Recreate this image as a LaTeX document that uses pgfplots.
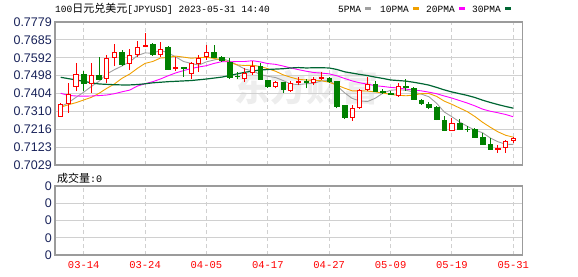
\documentclass[border=0pt]{standalone}
\usepackage{pgfplots}
\pgfplotsset{compat=1.18}
\usepackage{pgfplotstable}
\usepackage{fontspec}
\setmainfont{Liberation Sans}
\newfontfamily\cjk{Noto Sans CJK SC}
\newfontfamily\mono{Liberation Mono}

\definecolor{upred}{RGB}{255,0,0}
\definecolor{dngreen}{RGB}{0,128,0}
\definecolor{mafive}{RGB}{160,160,160}
\definecolor{maten}{RGB}{240,160,0}
\definecolor{matwenty}{RGB}{255,0,255}
\definecolor{mathirty}{RGB}{0,102,51}
\definecolor{gridc}{RGB}{208,208,208}
\definecolor{framec}{RGB}{155,155,155}
\definecolor{ticktext}{RGB}{25,35,90}

\pgfplotstableread{
i o h l c
0 0.7282 0.7353 0.7282 0.7347
1 0.7353 0.7457 0.7303 0.7398
2 0.7442 0.7566 0.7417 0.7505
3 0.7506 0.7522 0.7417 0.7458
4 0.7458 0.7566 0.7408 0.7499
5 0.7501 0.7595 0.7480 0.7480
6 0.7484 0.7606 0.7458 0.7589
7 0.7594 0.7664 0.7548 0.7620
8 0.7620 0.7632 0.7548 0.7557
9 0.7559 0.7636 0.7527 0.7604
10 0.7611 0.7681 0.7597 0.7646
11 0.7652 0.7720 0.7646 0.7658
12 0.7664 0.7671 0.7602 0.7610
13 0.7610 0.7673 0.7597 0.7637
14 0.7649 0.7655 0.7527 0.7533
15 0.7534 0.7594 0.7524 0.7543
16 0.7543 0.7545 0.7492 0.7539
17 0.7510 0.7571 0.7480 0.7560
18 0.7560 0.7606 0.7518 0.7589
19 0.7597 0.7657 0.7580 0.7620
20 0.7622 0.7657 0.7589 0.7594
21 0.7592 0.7601 0.7571 0.7576
22 0.7568 0.7589 0.7479 0.7489
23 0.7495 0.7518 0.7479 0.7493
24 0.7484 0.7536 0.7466 0.7510
25 0.7515 0.7576 0.7501 0.7548
26 0.7545 0.7562 0.7475 0.7480
27 0.7475 0.7475 0.7434 0.7440
28 0.7440 0.7471 0.7431 0.7463
29 0.7461 0.7466 0.7408 0.7428
30 0.7422 0.7470 0.7413 0.7458
31 0.7462 0.7489 0.7447 0.7466
32 0.7466 0.7480 0.7431 0.7462
33 0.7461 0.7492 0.7449 0.7478
34 0.7482 0.7518 0.7475 0.7486
35 0.7484 0.7489 0.7458 0.7466
36 0.7466 0.7470 0.7326 0.7335
37 0.7344 0.7344 0.7270 0.7277
38 0.7279 0.7344 0.7260 0.7326
39 0.7330 0.7426 0.7324 0.7422
40 0.7426 0.7489 0.7417 0.7452
41 0.7452 0.7471 0.7413 0.7417
42 0.7415 0.7426 0.7401 0.7411
43 0.7405 0.7417 0.7395 0.7401
44 0.7396 0.7461 0.7386 0.7440
45 0.7442 0.7478 0.7419 0.7436
46 0.7431 0.7440 0.7370 0.7374
47 0.7370 0.7375 0.7344 0.7353
48 0.7349 0.7361 0.7321 0.7332
49 0.7332 0.7338 0.7265 0.7269
50 0.7265 0.7286 0.7209 0.7209
51 0.7209 0.7277 0.7209 0.7248
52 0.7248 0.7269 0.7213 0.7216
53 0.7219 0.7234 0.7204 0.7217
54 0.7216 0.7221 0.7172 0.7172
55 0.7172 0.7195 0.7134 0.7139
56 0.7139 0.7169 0.7108 0.7113
57 0.7111 0.7134 0.7094 0.7115
58 0.7120 0.7160 0.7094 0.7151
59 0.7156 0.7174 0.7146 0.7169
}\candles

\pgfplotstableread{
i m5 m10 m20 m30
0 0.7335 0.7332 0.7405 0.7489
1 0.7356 0.7345 0.7394 0.7482
2 0.7384 0.7356 0.7391 0.7475
3 0.7411 0.7370 0.7390 0.7468
4 0.7441 0.7384 0.7391 0.7460
5 0.7468 0.7405 0.7393 0.7454
6 0.7506 0.7431 0.7396 0.7452
7 0.7529 0.7454 0.7403 0.7450
8 0.7549 0.7484 0.7413 0.7449
9 0.7570 0.7506 0.7422 0.7449
10 0.7603 0.7536 0.7443 0.7451
11 0.7617 0.7562 0.7455 0.7455
12 0.7615 0.7572 0.7466 0.7460
13 0.7631 0.7590 0.7480 0.7463
14 0.7617 0.7593 0.7497 0.7466
15 0.7596 0.7600 0.7512 0.7468
16 0.7572 0.7595 0.7524 0.7470
17 0.7562 0.7589 0.7535 0.7472
18 0.7553 0.7592 0.7543 0.7476
19 0.7570 0.7594 0.7550 0.7480
20 0.7580 0.7588 0.7562 0.7485
21 0.7588 0.7580 0.7571 0.7490
22 0.7574 0.7568 0.7570 0.7498
23 0.7554 0.7554 0.7572 0.7507
24 0.7532 0.7551 0.7572 0.7515
25 0.7523 0.7552 0.7576 0.7522
26 0.7504 0.7546 0.7570 0.7527
27 0.7494 0.7534 0.7561 0.7530
28 0.7488 0.7521 0.7557 0.7532
29 0.7472 0.7502 0.7548 0.7534
30 0.7454 0.7489 0.7538 0.7538
31 0.7451 0.7478 0.7529 0.7540
32 0.7455 0.7475 0.7521 0.7538
33 0.7458 0.7473 0.7514 0.7539
34 0.7470 0.7471 0.7511 0.7539
35 0.7472 0.7463 0.7507 0.7538
36 0.7445 0.7448 0.7497 0.7530
37 0.7408 0.7432 0.7483 0.7518
38 0.7378 0.7418 0.7470 0.7511
39 0.7365 0.7418 0.7460 0.7504
40 0.7362 0.7417 0.7453 0.7498
41 0.7379 0.7412 0.7445 0.7490
42 0.7406 0.7407 0.7441 0.7483
43 0.7421 0.7399 0.7436 0.7475
44 0.7424 0.7395 0.7433 0.7472
45 0.7421 0.7392 0.7427 0.7469
46 0.7412 0.7396 0.7422 0.7463
47 0.7401 0.7403 0.7418 0.7456
48 0.7387 0.7404 0.7411 0.7448
49 0.7353 0.7389 0.7403 0.7436
50 0.7307 0.7364 0.7391 0.7423
51 0.7282 0.7347 0.7380 0.7412
52 0.7255 0.7328 0.7367 0.7403
53 0.7232 0.7309 0.7354 0.7394
54 0.7212 0.7283 0.7339 0.7383
55 0.7198 0.7253 0.7322 0.7369
56 0.7171 0.7227 0.7311 0.7357
57 0.7151 0.7203 0.7303 0.7346
58 0.7138 0.7185 0.7294 0.7336
59 0.7137 0.7175 0.7282 0.7327
}\mas

\begin{document}
\begin{tikzpicture}
\useasboundingbox (0pt,0pt) rectangle (578pt,276pt);
% watermark
\node[text=black!7, font=\cjk\bfseries\fontsize{36}{40}\selectfont, anchor=center] at (306pt,188pt) {东方财富};

\begin{axis}[
  at={(55pt,111pt)}, anchor=south west,
  width=467.5pt, height=143pt, scale only axis,
  xmin=-0.743, xmax=60.2,
  ymin=0.7029, ymax=0.7779,
  ytick={0.7029,0.712275,0.72165,0.731025,0.7404,0.749775,0.75915,0.768525,0.7779},
  yticklabels={0.7029,0.7123,0.7216,0.7310,0.7404,0.7498,0.7592,0.7685,0.7779},
  xtick={3,11,19,27,35,43,51,59}, xticklabels={},
  major tick length=0pt,
  ymajorgrids, xmajorgrids,
  y grid style={gridc, line width=0.9pt},
  x grid style={gridc, line width=0.9pt, dash pattern=on 4pt off 3pt},
  axis line style={framec, line width=1.2pt},
  yticklabel style={text=ticktext, font=\fontsize{12.5}{14}\selectfont, inner sep=0pt, xshift=-3pt},
  axis on top=false,
]
\addplot[mafive, line width=0.9pt] table[x=i, y=m5] {\mas};
\addplot[maten, line width=0.9pt] table[x=i, y=m10] {\mas};
\addplot[matwenty, line width=0.9pt] table[x=i, y=m20] {\mas};
\addplot[mathirty, line width=1.2pt] table[x=i, y=m30] {\mas};
\pgfplotsforeachungrouped \ri in {0,...,59}{%
  \pgfplotstablegetelem{\ri}{o}\of\candles \let\co\pgfplotsretval
  \pgfplotstablegetelem{\ri}{h}\of\candles \let\ch\pgfplotsretval
  \pgfplotstablegetelem{\ri}{l}\of\candles \let\cl\pgfplotsretval
  \pgfplotstablegetelem{\ri}{c}\of\candles \let\cc\pgfplotsretval
  \ifdim\cc pt<\co pt
    \pgfmathsetmacro\xa{\ri-0.31}%
    \pgfmathsetmacro\xb{\ri+0.31}%
    \edef\doit{\noexpand\addplot[dngreen, line width=1pt] coordinates {(\ri,\cl) (\ri,\ch)};
      \noexpand\addplot[draw=dngreen, fill=dngreen, line width=0.5pt] coordinates {(\xa,\co) (\xb,\co) (\xb,\cc) (\xa,\cc)} -- cycle;}%
  \else
    \pgfmathsetmacro\xa{\ri-0.27}%
    \pgfmathsetmacro\xb{\ri+0.27}%
    \edef\doit{\noexpand\addplot[upred, line width=1pt] coordinates {(\ri,\cl) (\ri,\ch)};
      \noexpand\addplot[draw=upred, fill=white, line width=1pt] coordinates {(\xa,\co) (\xb,\co) (\xb,\cc) (\xa,\cc)} -- cycle;}%
  \fi
  \doit
}
\end{axis}

\begin{axis}[
  at={(55pt,21pt)}, anchor=south west,
  width=467.5pt, height=69pt, scale only axis,
  xmin=-0.743, xmax=60.2,
  ymin=0, ymax=4,
  ytick={0,1,2,3,4}, yticklabels={0,0,0,0,0},
  xtick={3,11,19,27,35,43,51,59},
  xticklabels={03-14,03-24,04-05,04-17,04-27,05-09,05-19,05-31},
  major tick length=0pt,
  ymajorgrids, xmajorgrids,
  y grid style={gridc, line width=0.9pt},
  x grid style={gridc, line width=0.9pt, dash pattern=on 4pt off 3pt},
  axis line style={framec, line width=1.2pt},
  yticklabel style={text=ticktext, font=\fontsize{12.5}{14}\selectfont, inner sep=0pt, xshift=-3pt},
  xticklabel style={text=upred, font=\mono\fontsize{10.5}{12}\selectfont, inner sep=0pt, yshift=-6pt},
]
\addplot[draw=none] coordinates {(0,0)};
\end{axis}

% title
\node[anchor=base west, inner sep=0pt] at (55pt,263pt) {\mono\fontsize{9.5}{11}\selectfont 100\cjk\fontsize{11}{13}\selectfont 日元兑美元\mono\fontsize{9.5}{11}\selectfont [JPYUSD] 2023-05-31 14:40};
% legend
\node[anchor=base west, inner sep=0pt, font=\mono\fontsize{9.5}{11}\selectfont] at (338pt,263pt) {5PMA};
\fill[mafive] (365pt,265.5pt) rectangle (371pt,268.5pt);
\node[anchor=base west, inner sep=0pt, font=\mono\fontsize{9.5}{11}\selectfont] at (380pt,263pt) {10PMA};
\fill[maten] (413pt,265.5pt) rectangle (419pt,268.5pt);
\node[anchor=base west, inner sep=0pt, font=\mono\fontsize{9.5}{11}\selectfont] at (426pt,263pt) {20PMA};
\fill[matwenty] (459pt,265.5pt) rectangle (465pt,268.5pt);
\node[anchor=base west, inner sep=0pt, font=\mono\fontsize{9.5}{11}\selectfont] at (472pt,263pt) {30PMA};
\fill[mathirty] (505pt,265.5pt) rectangle (511pt,268.5pt);
% volume label
\node[anchor=base west, inner sep=0pt] at (57pt,94pt) {\cjk\fontsize{11}{13}\selectfont 成交量\mono\fontsize{10}{12}\selectfont :0};
\end{tikzpicture}
\end{document}
